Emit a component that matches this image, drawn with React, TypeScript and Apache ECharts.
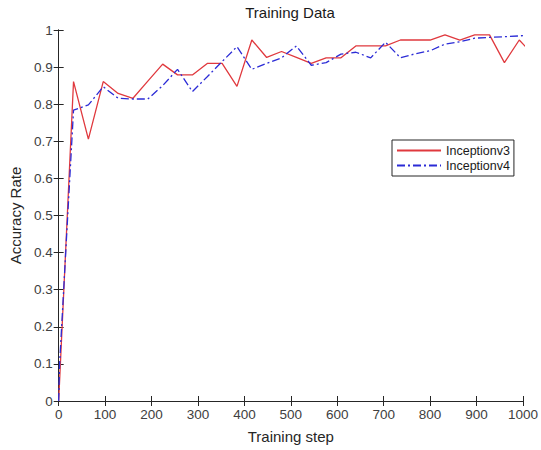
import React, { useEffect, useRef } from "react";
import * as echarts from "echarts";

const steps: number[] = [0, 32, 64, 96, 128, 160, 192, 224, 256, 288, 320, 352, 384, 416, 448, 480, 512, 544, 576, 608, 640, 672, 704, 736, 768, 800, 832, 864, 896, 928, 960, 992, 1024];
const inceptionV3: number[] = [0, 0.861, 0.706, 0.861, 0.829, 0.816, 0.862, 0.908, 0.879, 0.879, 0.91, 0.91, 0.848, 0.973, 0.926, 0.942, 0.926, 0.91, 0.925, 0.925, 0.957, 0.957, 0.957, 0.973, 0.973, 0.973, 0.987, 0.973, 0.987, 0.987, 0.912, 0.973, 0.93];
const stepsV4: number[] = [0, 2, 32, 64, 96, 128, 160, 192, 224, 256, 288, 320, 352, 384, 416, 448, 480, 512, 544, 576, 608, 640, 672, 704, 736, 768, 800, 832, 864, 896, 928, 960, 992, 1024];
const inceptionV4: number[] = [0, 0.1, 0.784, 0.798, 0.847, 0.816, 0.814, 0.814, 0.85, 0.894, 0.834, 0.874, 0.915, 0.955, 0.894, 0.91, 0.925, 0.957, 0.905, 0.912, 0.935, 0.94, 0.925, 0.967, 0.925, 0.936, 0.944, 0.962, 0.968, 0.978, 0.98, 0.982, 0.984, 0.988];
const seriesNames: string[] = ["Inceptionv3", "Inceptionv4"];
const titleText = "Training Data";
const xName = "Training step";
const yName = "Accuracy Rate";

const FONT = "'Liberation Sans', Arial, sans-serif";

export default function App() {
  const ref = useRef<HTMLDivElement>(null);
  useEffect(() => {
    if (!ref.current) return;
    const chart = echarts.init(ref.current, undefined, { renderer: "svg" });
    const axisLine = { show: true, lineStyle: { color: "#262626", width: 1 } };
    const tick = { show: true, inside: true, length: 5, lineStyle: { color: "#262626" } };
    const yFmt = (v: number) => (v === 0 || v === 1 ? String(v) : v.toFixed(1));
    const xFmt = (v: number) => String(v);
    chart.setOption({
      animation: false,
      backgroundColor: "#ffffff",
      textStyle: { fontFamily: FONT },
      graphic: [
        {
          type: "text",
          x: 290,
          y: 12,
          style: {
            text: titleText,
            fontSize: 15,
            fontFamily: FONT,
            fill: "#1a1a1a",
            textAlign: "center",
            textVerticalAlign: "middle",
          },
        },
      ],
      grid: { left: 56, right: 16, top: 30, bottom: 49, containLabel: false },
      legend: {
        left: 392,
        top: 140,
        orient: "vertical",
        backgroundColor: "#ffffff",
        borderColor: "#262626",
        borderWidth: 1,
        borderRadius: 0,
        padding: [4, 4, 4, 4],
        itemGap: 2,
        itemWidth: 44,
        itemHeight: 14,
        itemStyle: { opacity: 0, borderWidth: 0 },
        textStyle: { fontSize: 12.5, color: "#1a1a1a", fontFamily: FONT },
        data: seriesNames,
      },
      xAxis: [
        {
          type: "value",
          min: 0,
          max: 1000,
          interval: 100,
          position: "bottom",
          name: xName,
          nameLocation: "middle",
          nameGap: 28,
          nameTextStyle: { fontSize: 15, color: "#262626", fontFamily: FONT },
          axisLine,
          axisTick: tick,
          splitLine: { show: false },
          axisLabel: { fontSize: 13.5, color: "#404040", margin: 6, formatter: xFmt, fontFamily: FONT },
        },
        {
          type: "value",
          min: 0,
          max: 1000,
          interval: 100,
          position: "top",
          axisLine,
          axisTick: tick,
          splitLine: { show: false },
          axisLabel: { show: false },
        },
      ],
      yAxis: [
        {
          type: "value",
          min: 0,
          max: 1,
          interval: 0.1,
          position: "left",
          name: yName,
          nameLocation: "middle",
          nameGap: 31,
          nameTextStyle: { fontSize: 15, color: "#262626", fontFamily: FONT },
          axisLine,
          axisTick: tick,
          splitLine: { show: false },
          axisLabel: { fontSize: 13.5, color: "#404040", margin: 6, formatter: yFmt, fontFamily: FONT },
        },
        {
          type: "value",
          min: 0,
          max: 1,
          interval: 0.1,
          position: "right",
          axisLine,
          axisTick: tick,
          splitLine: { show: false },
          axisLabel: { show: false },
        },
      ],
      series: [
        {
          name: seriesNames[0],
          type: "line",
          xAxisIndex: 0,
          yAxisIndex: 0,
          symbol: "none",
          clip: true,
          data: steps.map((s, i) => [s, inceptionV3[i]]),
          lineStyle: { color: "#e0393e", width: 1.3, type: "solid" },
          itemStyle: { color: "#e0393e" },
        },
        {
          name: seriesNames[1],
          type: "line",
          xAxisIndex: 0,
          yAxisIndex: 0,
          symbol: "none",
          clip: true,
          data: stepsV4.map((s, i) => [s, inceptionV4[i]]),
          lineStyle: { color: "#2b2bd6", width: 1.3, type: [8, 3, 2, 3] },
          itemStyle: { color: "#2b2bd6" },
        },
      ],
    });
    return () => chart.dispose();
  }, []);
  return (
    <div
      ref={ref}
      style={{ position: "fixed", left: 0, top: 0, width: 541, height: 450, background: "#fff" }}
    />
  );
}
